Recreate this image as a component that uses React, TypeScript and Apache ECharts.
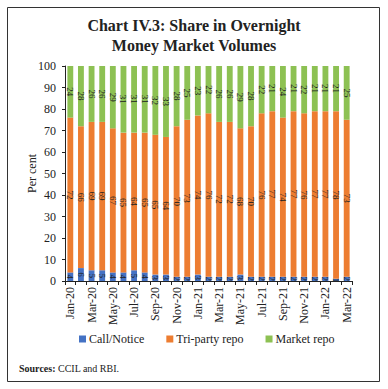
import React, { useEffect, useRef } from "react";
import * as echarts from "echarts";

const months = [
  "Jan-20", "Feb-20", "Mar-20", "Apr-20", "May-20", "Jun-20", "Jul-20", "Aug-20", "Sep-20",
  "Oct-20", "Nov-20", "Dec-20", "Jan-21", "Feb-21", "Mar-21", "Apr-21", "May-21", "Jun-21",
  "Jul-21", "Aug-21", "Sep-21", "Oct-21", "Nov-21", "Dec-21", "Jan-22", "Feb-22", "Mar-22",
];
const callNotice = [4, 6, 5, 5, 4, 4, 5, 4, 3, 3, 2, 2, 3, 2, 2, 2, 3, 2, 2, 2, 2, 2, 2, 2, 2, 1, 2];
const triParty = [72, 66, 69, 69, 67, 65, 64, 65, 65, 64, 70, 73, 74, 76, 72, 72, 68, 70, 76, 77, 74, 77, 76, 77, 77, 78, 73];
const marketRepo = [24, 28, 26, 26, 29, 31, 31, 31, 32, 33, 28, 25, 23, 22, 26, 26, 29, 28, 22, 21, 24, 21, 22, 21, 21, 21, 25];
const yTicks = { min: 0, max: 100, interval: 10 };

const SERIF = "'Liberation Serif', 'Times New Roman', serif";

export default function App() {
  const ref = useRef<HTMLDivElement>(null);
  useEffect(() => {
    if (!ref.current) return;
    const chart = echarts.init(ref.current, null, { renderer: "svg" });
    const label = {
      show: true,
      position: "inside" as const,
      rotate: -90,
      fontSize: 9,
      color: "#222",
      fontFamily: SERIF,
    };
    chart.setOption({
      animation: false,
      backgroundColor: "#fff",
      textStyle: { fontFamily: SERIF },
      title: {
        text: "Chart IV.3: Share in Overnight\nMoney Market Volumes",
        left: "center",
        top: 10,
        textStyle: { fontSize: 16, fontWeight: "bold", color: "#222", lineHeight: 20, fontFamily: SERIF },
      },
      grid: { left: 65, right: 36, top: 66, bottom: 108, containLabel: false, outerBoundsMode: "none" },
      legend: {
        bottom: 39,
        left: 74,
        itemWidth: 7,
        itemHeight: 7,
        itemGap: 22,
        icon: "rect",
        textStyle: { fontSize: 12, color: "#222", fontFamily: SERIF, padding: [0, 0, 0, -2] },
        data: ["Call/Notice", "Tri-party repo", "Market repo"],
      },
      xAxis: {
        type: "category",
        data: months,
        axisLine: { lineStyle: { color: "#222" } },
        axisTick: { show: true, interval: 0, length: 4, lineStyle: { color: "#222" } },
        axisLabel: { interval: 1, rotate: 90, fontSize: 12, color: "#222", margin: 6, fontFamily: SERIF },
      },
      yAxis: {
        type: "value",
        min: yTicks.min,
        max: yTicks.max,
        interval: yTicks.interval,
        name: "Per cent",
        nameLocation: "middle",
        nameRotate: 90,
        nameGap: 27,
        nameMoveOverlap: false,
        nameTextStyle: { fontSize: 12, color: "#222", fontFamily: SERIF },
        axisLine: { show: true, lineStyle: { color: "#222" } },
        axisTick: { show: true, length: 3, lineStyle: { color: "#222" } },
        axisLabel: { fontSize: 12, color: "#222", margin: 9, fontFamily: SERIF },
        splitLine: { show: false },
      },
      graphic: [
        {
          type: "rect",
          shape: { x: 7.5, y: 7.5, width: 372, height: 374 },
          style: { fill: "none", stroke: "#333", lineWidth: 1 },
          silent: true,
        },
        {
          type: "text",
          left: 19,
          top: 363,
          style: {
            text: "{b|Sources:} CCIL and RBI.",
            fontSize: 10,
            fill: "#222",
            fontFamily: SERIF,
            rich: { b: { fontWeight: "bold", fontSize: 10, fontFamily: SERIF, fill: "#222" } },
          },
        },
      ],
      series: [
        {
          name: "Call/Notice",
          type: "bar",
          stack: "total",
          data: callNotice,
          barCategoryGap: "45%",
          itemStyle: { color: "#4472C4" },
          label,
        },
        {
          name: "Tri-party repo",
          type: "bar",
          stack: "total",
          data: triParty,
          barCategoryGap: "45%",
          itemStyle: { color: "#ED7D31" },
          label,
        },
        {
          name: "Market repo",
          type: "bar",
          stack: "total",
          data: marketRepo,
          barCategoryGap: "45%",
          itemStyle: { color: "#8DC153" },
          label,
        },
      ],
    });
    return () => chart.dispose();
  }, []);
  return (
    <div
      ref={ref}
      style={{ position: "fixed", left: 0, top: 0, width: 388, height: 389, background: "#fff" }}
    />
  );
}
